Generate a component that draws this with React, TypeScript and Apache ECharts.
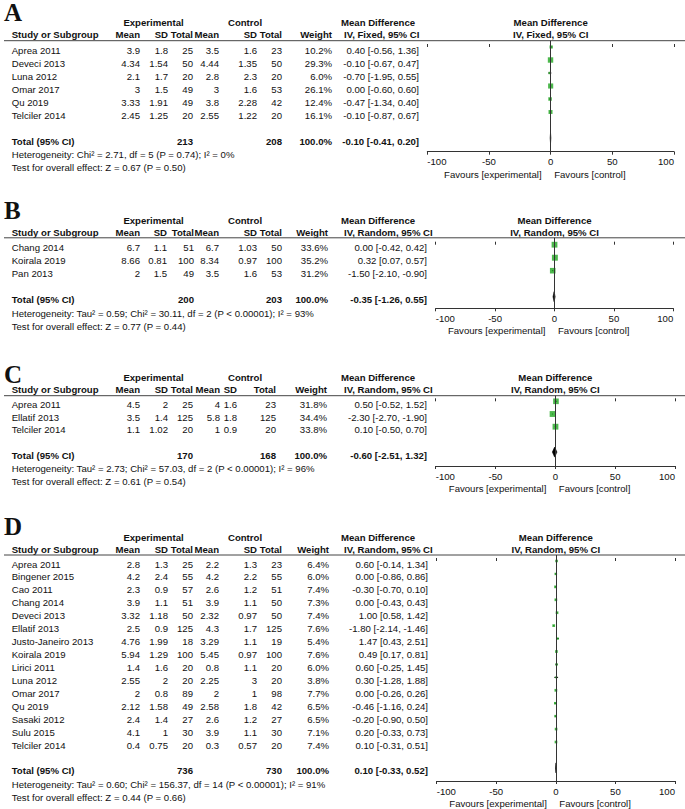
import { useEffect, useRef } from "react";
import * as echarts from "echarts";

// ---------- Panel A (IV, Fixed) ----------
const studiesA = ["Aprea 2011", "Deveci 2013", "Luna 2012", "Omar 2017", "Qu 2019", "Telciler 2014"];
const expMeanA = [3.9, 4.34, 2.1, 3, 3.33, 2.45];
const expSdA = [1.8, 1.54, 1.7, 1.5, 1.91, 1.25];
const expNA = [25, 50, 20, 49, 49, 20];
const ctlMeanA = [3.5, 4.44, 2.8, 3, 3.8, 2.55];
const ctlSdA = [1.6, 1.35, 2.3, 1.6, 2.28, 1.22];
const ctlNA = [23, 50, 20, 53, 42, 20];
const weightA = [10.2, 29.3, 6.0, 26.1, 12.4, 16.1];
const mdA = [0.4, -0.1, -0.7, 0.0, -0.47, -0.1];
const loA = [-0.56, -0.67, -1.95, -0.6, -1.34, -0.87];
const hiA = [1.36, 0.47, 0.55, 0.6, 0.4, 0.67];
const totalNA = [213, 208];
const totalMdA = [-0.1, -0.41, 0.2];
const hetA = "Heterogeneity: Chi² = 2.71, df = 5 (P = 0.74); I² = 0%";
const testA = "Test for overall effect: Z = 0.67 (P = 0.50)";

// ---------- Panel B (IV, Random) ----------
const studiesB = ["Chang 2014", "Koirala 2019", "Pan 2013"];
const expMeanB = [6.7, 8.66, 2];
const expSdB = [1.1, 0.81, 1.5];
const expNB = [51, 100, 49];
const ctlMeanB = [6.7, 8.34, 3.5];
const ctlSdB = [1.03, 0.97, 1.6];
const ctlNB = [50, 100, 53];
const weightB = [33.6, 35.2, 31.2];
const mdB = [0.0, 0.32, -1.5];
const loB = [-0.42, 0.07, -2.1];
const hiB = [0.42, 0.57, -0.9];
const totalNB = [200, 203];
const totalMdB = [-0.35, -1.26, 0.55];
const hetB = "Heterogeneity: Tau² = 0.59; Chi² = 30.11, df = 2 (P < 0.00001); I² = 93%";
const testB = "Test for overall effect: Z = 0.77 (P = 0.44)";

// ---------- Panel C (IV, Random) ----------
const studiesC = ["Aprea 2011", "Ellatif 2013", "Telciler 2014"];
const expMeanC = [4.5, 3.5, 1.1];
const expSdC = [2, 1.4, 1.02];
const expNC = [25, 125, 20];
const ctlMeanC = [4, 5.8, 1];
const ctlSdC = [1.6, 1.8, 0.9];
const ctlNC = [23, 125, 20];
const weightC = [31.8, 34.4, 33.8];
const mdC = [0.5, -2.3, 0.1];
const loC = [-0.52, -2.7, -0.5];
const hiC = [1.52, -1.9, 0.7];
const totalNC = [170, 168];
const totalMdC = [-0.6, -2.51, 1.32];
const hetC = "Heterogeneity: Tau² = 2.73; Chi² = 57.03, df = 2 (P < 0.00001); I² = 96%";
const testC = "Test for overall effect: Z = 0.61 (P = 0.54)";

// ---------- Panel D (IV, Random) ----------
const studiesD = [
  "Aprea 2011", "Bingener 2015", "Cao 2011", "Chang 2014", "Deveci 2013", "Ellatif 2013",
  "Justo-Janeiro 2013", "Koirala 2019", "Lirici 2011", "Luna 2012", "Omar 2017", "Qu 2019",
  "Sasaki 2012", "Sulu 2015", "Telciler 2014",
];
const expMeanD = [2.8, 4.2, 2.3, 3.9, 3.32, 2.5, 4.76, 5.94, 1.4, 2.55, 2, 2.12, 2.4, 4.1, 0.4];
const expSdD = [1.3, 2.4, 0.9, 1.1, 1.18, 0.9, 1.99, 1.29, 1.6, 2, 0.8, 1.58, 1.4, 1, 0.75];
const expND = [25, 55, 57, 51, 50, 125, 18, 100, 20, 20, 89, 49, 27, 30, 20];
const ctlMeanD = [2.2, 4.2, 2.6, 3.9, 2.32, 4.3, 3.29, 5.45, 0.8, 2.25, 2, 2.58, 2.6, 3.9, 0.3];
const ctlSdD = [1.3, 2.2, 1.2, 1.1, 0.97, 1.7, 1.1, 0.97, 1.1, 3, 1, 1.8, 1.2, 1.1, 0.57];
const ctlND = [23, 55, 51, 50, 50, 125, 19, 100, 20, 20, 98, 42, 27, 30, 20];
const weightD = [6.4, 6.0, 7.4, 7.3, 7.4, 7.6, 5.4, 7.6, 6.0, 3.8, 7.7, 6.5, 6.5, 7.1, 7.4];
const mdD = [0.6, 0.0, -0.3, 0.0, 1.0, -1.8, 1.47, 0.49, 0.6, 0.3, 0.0, -0.46, -0.2, 0.2, 0.1];
const loD = [-0.14, -0.86, -0.7, -0.43, 0.58, -2.14, 0.43, 0.17, -0.25, -1.28, -0.26, -1.16, -0.9, -0.33, -0.31];
const hiD = [1.34, 0.86, 0.1, 0.43, 1.42, -1.46, 2.51, 0.81, 1.45, 1.88, 0.26, 0.24, 0.5, 0.73, 0.51];
const totalND = [736, 730];
const totalMdD = [0.1, -0.33, 0.52];
const hetD = "Heterogeneity: Tau² = 0.60; Chi² = 156.37, df = 14 (P < 0.00001); I² = 91%";
const testD = "Test for overall effect: Z = 0.44 (P = 0.66)";

// axis
const axisMin = -100;
const axisMax = 100;
const axisStep = 50;
const colHeaders = ["Mean", "SD", "Total", "Mean", "SD", "Total", "Weight"];

type Panel = {
  letter: string; method: string;
  studies: string[]; expMean: number[]; expSd: number[]; expN: number[];
  ctlMean: number[]; ctlSd: number[]; ctlN: number[]; weight: number[];
  md: number[]; lo: number[]; hi: number[];
  totalN: number[]; totalMd: number[]; het: string; test: string;
  lay: { letterY: number; lineY: number; textY0: number; rowH: number; axisY: number; xL: number; xR: number; cols: number[] };
};

const panels: Panel[] = [
  {
    letter: "A", method: "IV, Fixed, 95% CI",
    studies: studiesA, expMean: expMeanA, expSd: expSdA, expN: expNA, ctlMean: ctlMeanA, ctlSd: ctlSdA, ctlN: ctlNA,
    weight: weightA, md: mdA, lo: loA, hi: hiA, totalN: totalNA, totalMd: totalMdA, het: hetA, test: testA,
    lay: { letterY: 12.5, lineY: 40.7, textY0: 50, rowH: 13, axisY: 151.7, xL: 427.3, xR: 674, cols: [140, 168, 193, 219, 257, 282, 332, 419] },
  },
  {
    letter: "B", method: "IV, Random, 95% CI",
    studies: studiesB, expMean: expMeanB, expSd: expSdB, expN: expNB, ctlMean: ctlMeanB, ctlSd: ctlSdB, ctlN: ctlNB,
    weight: weightB, md: mdB, lo: loB, hi: hiB, totalN: totalNB, totalMd: totalMdB, het: hetB, test: testB,
    lay: { letterY: 210, lineY: 237.8, textY0: 247.7, rowH: 13, axisY: 308.3, xL: 435.7, xR: 673.3, cols: [140, 167, 194, 219, 257, 282, 328, 427] },
  },
  {
    letter: "C", method: "IV, Random, 95% CI",
    studies: studiesC, expMean: expMeanC, expSd: expSdC, expN: expNC, ctlMean: ctlMeanC, ctlSd: ctlSdC, ctlN: ctlNC,
    weight: weightC, md: mdC, lo: loC, hi: hiC, totalN: totalNC, totalMd: totalMdC, het: hetC, test: testC,
    lay: { letterY: 374.2, lineY: 395.7, textY0: 404.3, rowH: 12.7, axisY: 466, xL: 435.7, xR: 675, cols: [140, 168, 193, 220, 237, 276, 327, 427] },
  },
  {
    letter: "D", method: "IV, Random, 95% CI",
    studies: studiesD, expMean: expMeanD, expSd: expSdD, expN: expND, ctlMean: ctlMeanD, ctlSd: ctlSdD, ctlN: ctlND,
    weight: weightD, md: mdD, lo: loD, hi: hiD, totalN: totalND, totalMd: totalMdD, het: hetD, test: testD,
    lay: { letterY: 526.5, lineY: 555, textY0: 564, rowH: 12.93, axisY: 781, xL: 436.7, xR: 675, cols: [140, 168, 193, 219, 257, 282, 329, 428] },
  },
];

const SANS = '"Liberation Sans", Arial, sans-serif';
const SERIF = '"Liberation Serif", "Times New Roman", serif';
const FS = 9.6;
const INK = "#111";

function txt(text: string, x: number, y: number, align: string, bold = false, size = FS, family = SANS) {
  return {
    type: "text",
    x,
    y,
    silent: true,
    style: {
      text,
      font: `${bold ? "bold " : ""}${size}px ${family}`,
      fill: INK,
      align,
      verticalAlign: "middle",
      textAlign: align,
      textVerticalAlign: "middle",
    },
  };
}

const ciStr = (m: number, l: number, h: number) => `${m.toFixed(2)} [${l.toFixed(2)}, ${h.toFixed(2)}]`;

function buildOption() {
  const grid: any[] = [];
  const xAxis: any[] = [];
  const yAxis: any[] = [];
  const series: any[] = [];
  const graphic: any[] = [];

  panels.forEach((p, pi) => {
    const L = p.lay;
    const N = p.studies.length;
    const zeroX = (L.xL + L.xR) / 2;
    const sqY0 = L.textY0 - 3;
    const yMin = -(sqY0 - L.lineY) / L.rowH;
    const yMax = yMin + (L.axisY - L.lineY) / L.rowH;

    grid.push({ left: L.xL, top: L.lineY, width: L.xR - L.xL, height: L.axisY - L.lineY, containLabel: false, outerBoundsMode: "none" });
    xAxis.push({
      gridIndex: pi, type: "value", min: axisMin, max: axisMax, interval: axisStep, position: "bottom",
      splitLine: { show: false },
      axisLine: { show: true, onZero: false, lineStyle: { color: "#333", width: 1 } },
      axisTick: { show: true, length: 3, lineStyle: { color: "#333", width: 1 } },
      axisLabel: { show: true, margin: 5, fontSize: FS, fontFamily: SANS, color: INK, alignMinLabel: "left", alignMaxLabel: "right" },
    });
    xAxis.push({
      gridIndex: pi, type: "value", min: axisMin, max: axisMax, interval: axisStep, position: "bottom", offset: 0,
      splitLine: { show: false },
      axisLine: { show: false },
      axisTick: { show: true, inside: true, length: 3, lineStyle: { color: "#333", width: 1 } },
      axisLabel: { show: false },
    });
    yAxis.push({ gridIndex: pi, type: "value", inverse: true, min: yMin, max: yMax, show: false, splitLine: { show: false } });

    const xi = pi * 2;
    series.push({
      type: "custom", xAxisIndex: xi, yAxisIndex: pi, silent: true, z: 2,
      encode: { x: [0, 1], y: 2 },
      data: p.studies.map((_, i) => [p.lo[i], p.hi[i], i]),
      renderItem: (_params: any, api: any) => {
        const a = api.coord([api.value(0), api.value(2)]);
        const b = api.coord([api.value(1), api.value(2)]);
        return { type: "line", shape: { x1: a[0], y1: a[1], x2: b[0], y2: b[1] }, style: { stroke: "#000", lineWidth: 1 } };
      },
      markLine: {
        silent: true, symbol: ["none", "none"], label: { show: false },
        lineStyle: { color: "#333", width: 1, type: "solid" },
        data: [{ xAxis: 0 }],
      },
    });
    series.push({
      type: "scatter", xAxisIndex: xi, yAxisIndex: pi, silent: true, z: 3,
      symbol: "rect",
      symbolSize: (v: number[]) => Math.sqrt(v[2]) * 1.0,
      itemStyle: { color: "#22a822" },
      data: p.studies.map((_, i) => [p.md[i], i, p.weight[i]]),
    });
    series.push({
      type: "custom", xAxisIndex: xi, yAxisIndex: pi, silent: true, z: 4,
      encode: { x: [0, 1, 2], y: 3 },
      data: [[p.totalMd[0], p.totalMd[1], p.totalMd[2], N + 1]],
      renderItem: (_params: any, api: any) => {
        const yv = api.value(3);
        const c = api.coord([api.value(0), yv]);
        const l = api.coord([api.value(1), yv]);
        const r = api.coord([api.value(2), yv]);
        const h = 5;
        return {
          type: "polygon",
          shape: { points: [[l[0], c[1]], [c[0], c[1] - h], [r[0], c[1]], [c[0], c[1] + h]] },
          style: { fill: "#000", stroke: "#000", lineWidth: 0.6 },
        };
      },
    });

    // ---- texts ----
    graphic.push(txt(p.letter, 4, L.letterY, "left", true, 25, SERIF));
    const hY1 = L.lineY - 17.8;
    const hY2 = L.lineY - 5.8;
    graphic.push(txt("Experimental", 153.5, hY1, "center", true));
    graphic.push(txt("Control", 245, hY1, "center", true));
    graphic.push(txt("Mean Difference", 341, hY1, "left", true));
    graphic.push(txt("Mean Difference", zeroX, hY1, "center", true));
    graphic.push(txt("Study or Subgroup", 11.7, hY2, "left", true));
    colHeaders.forEach((h, ci) => graphic.push(txt(h, L.cols[ci], hY2, "right", true)));
    graphic.push(txt(p.method, 344, hY2, "left", true));
    graphic.push(txt(p.method, zeroX, hY2, "center", true));
    graphic.push({
      type: "line", silent: true,
      shape: { x1: 4, y1: L.lineY, x2: 685, y2: L.lineY },
      style: { stroke: "#444", lineWidth: 1 },
    });

    p.studies.forEach((s, i) => {
      const y = L.textY0 + i * L.rowH;
      const vals = [
        String(p.expMean[i]), String(p.expSd[i]), String(p.expN[i]),
        String(p.ctlMean[i]), String(p.ctlSd[i]), String(p.ctlN[i]),
        `${p.weight[i].toFixed(1)}%`, ciStr(p.md[i], p.lo[i], p.hi[i]),
      ];
      graphic.push(txt(s, 11.7, y, "left"));
      vals.forEach((v, ci) => graphic.push(txt(v, L.cols[ci], y, "right")));
    });

    const tY = L.textY0 + (N + 1) * L.rowH;
    graphic.push(txt("Total (95% CI)", 11.7, tY, "left", true));
    graphic.push(txt(String(p.totalN[0]), L.cols[2], tY, "right", true));
    graphic.push(txt(String(p.totalN[1]), L.cols[5], tY, "right", true));
    graphic.push(txt("100.0%", L.cols[6], tY, "right", true));
    graphic.push(txt(ciStr(p.totalMd[0], p.totalMd[1], p.totalMd[2]), L.cols[7], tY, "right", true));
    graphic.push(txt(p.het, 11.7, tY + 13.8, "left"));
    graphic.push(txt(p.test, 11.7, tY + 26.4, "left"));

    graphic.push(txt("Favours [experimental]", zeroX - 9, L.axisY + 22.5, "right"));
    graphic.push(txt("Favours [control]", zeroX + 3.5, L.axisY + 22.5, "left"));
  });

  return {
    animation: false,
    backgroundColor: "#ffffff",
    grid,
    xAxis,
    yAxis,
    series,
    graphic: { elements: graphic },
  };
}

export default function App() {
  const ref = useRef<HTMLDivElement | null>(null);
  useEffect(() => {
    if (!ref.current) return;
    const chart = echarts.init(ref.current, undefined, { renderer: "svg" });
    chart.setOption(buildOption() as any);
    return () => chart.dispose();
  }, []);
  return (
    <div
      ref={ref}
      style={{ position: "absolute", left: 0, top: 0, width: 685, height: 809, background: "#fff" }}
    />
  );
}
